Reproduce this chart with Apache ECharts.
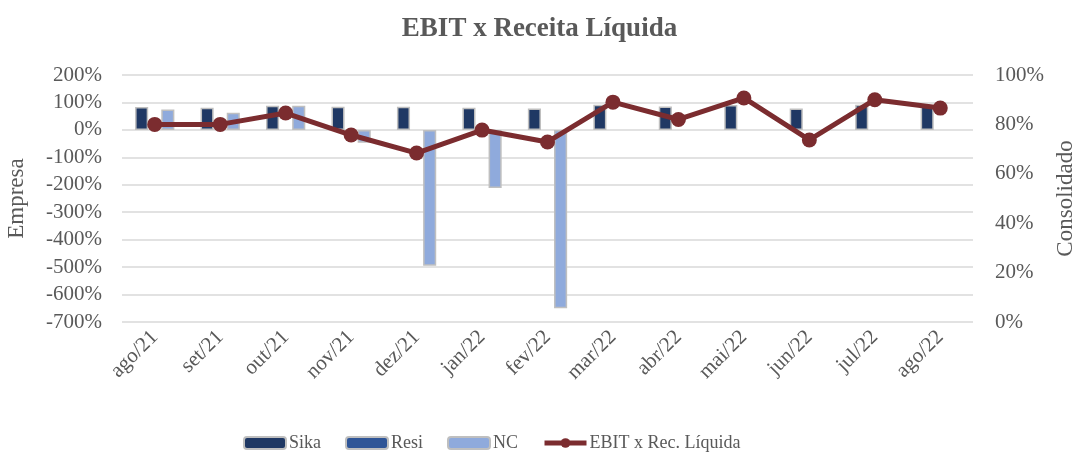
<!DOCTYPE html>
<html>
<head>
<meta charset="utf-8">
<script src="https://cdn.jsdelivr.net/npm/echarts@6/dist/echarts.min.js"></script>
<style>
    html, body { margin: 0; padding: 0; background: #fff; }
    #chart { width: 1079px; height: 457px; }
</style>
</head>
<body>
<div id="chart"></div>
<script>
// ==================
// DATA
// ==================

const categories = ['ago/21', 'set/21', 'out/21', 'nov/21', 'dez/21', 'jan/22', 'fev/22',
    'mar/22', 'abr/22', 'mai/22', 'jun/22', 'jul/22', 'ago/22'];

const sikaValues = [83, 81, 88, 84, 84, 81, 78, 92, 85, 91, 78, 92, 88];
const resiValues = [null, null, null, null, null, null, null, null, null, null, null, null, null];
const ncValues = [74, 62, 88, -47, -495, -212, -650, null, null, null, null, null, null];
const ebitValues = [80, 80, 84.6, 75.7, 68.4, 77.7, 72.9, 89, 82, 90.7, 73.7, 90, 86.6];

// ==================
// CONFIG
// ==================

const FONT = 'Liberation Serif, Times New Roman, serif';
const TEXT = '#595959';
const GRID = '#d9d9d9';
const LINE = '#7b2c2f';

const chart = echarts.init(document.getElementById('chart'));

const barStyle = color => ({
    color: color,
    borderColor: '#bfbfbf',
    borderWidth: 1.5
});

const option = {
    animation: false,
    textStyle: { fontFamily: FONT, color: TEXT },
    title: {
        text: 'EBIT x Receita Líquida',
        left: 'center',
        top: 11,
        textStyle: {
            fontFamily: FONT,
            fontSize: 27,
            fontWeight: 'bold',
            color: TEXT
        }
    },
    legend: {
        bottom: 0,
        left: 238,
        itemWidth: 42,
        itemHeight: 12,
        itemGap: 24,
        textStyle: { fontFamily: FONT, fontSize: 18, color: TEXT, padding: [0, 0, 0, -2] },
        data: [
            'Sika',
            'Resi',
            'NC',
            { name: 'EBIT x Rec. Líquida', lineStyle: { width: 5 } }
        ]
    },
    grid: {
        left: 122,
        right: 106,
        top: 75,
        bottom: 135,
        containLabel: false,
        outerBoundsMode: 'none'
    },
    xAxis: {
        type: 'category',
        data: categories,
        axisLine: { show: false },
        axisTick: { show: false },
        axisLabel: {
            rotate: 45,
            margin: 12,
            fontFamily: FONT,
            fontSize: 21,
            color: TEXT
        }
    },
    yAxis: [
        {
            type: 'value',
            min: -700,
            max: 200,
            interval: 100,
            name: 'Empresa',
            nameLocation: 'middle',
            nameGap: 94,
            nameTextStyle: { fontFamily: FONT, fontSize: 23, color: TEXT },
            axisLine: { show: false },
            axisTick: { show: false },
            axisLabel: {
                formatter: '{value}%',
                margin: 20,
                fontFamily: FONT,
                fontSize: 21,
                color: TEXT
            },
            splitLine: { lineStyle: { color: GRID, width: 1.5 } }
        },
        {
            type: 'value',
            min: 0,
            max: 100,
            interval: 20,
            name: 'Consolidado',
            nameLocation: 'middle',
            nameRotate: 90,
            nameGap: 80,
            nameTextStyle: { fontFamily: FONT, fontSize: 23, color: TEXT },
            axisLine: { show: false },
            axisTick: { show: false },
            axisLabel: {
                formatter: '{value}%',
                margin: 22,
                fontFamily: FONT,
                fontSize: 21,
                color: TEXT
            },
            splitLine: { show: false }
        }
    ],
    series: [
        {
            name: 'Sika',
            type: 'bar',
            data: sikaValues,
            barGap: '0%',
            barCategoryGap: '40%',
            itemStyle: barStyle('#1f3864')
        },
        {
            name: 'Resi',
            type: 'bar',
            data: resiValues,
            itemStyle: barStyle('#2f5597')
        },
        {
            name: 'NC',
            type: 'bar',
            data: ncValues,
            itemStyle: barStyle('#8faadc')
        },
        {
            name: 'EBIT x Rec. Líquida',
            type: 'line',
            yAxisIndex: 1,
            data: ebitValues,
            symbol: 'circle',
            symbolSize: 15,
            z: 5,
            lineStyle: { color: LINE, width: 5 },
            itemStyle: { color: LINE }
        }
    ]
};

chart.setOption(option);
</script>
</body>
</html>
